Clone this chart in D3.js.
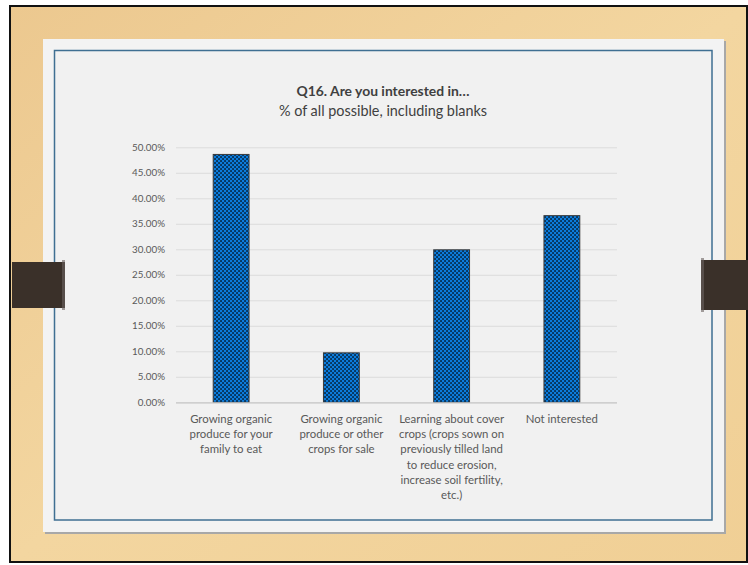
<!DOCTYPE html>
<html>
<head>
<meta charset="utf-8">
<script src="https://cdn.jsdelivr.net/npm/d3@7"></script>
<style>
  html, body { margin: 0; padding: 0; background: #ffffff; }
  svg { display: block; }
</style>
</head>
<body>
<svg id="chart" width="748" height="565"></svg>
<script>
const categories = [
  ["Growing organic", "produce for your", "family to eat"],
  ["Growing organic", "produce or other", "crops for sale"],
  ["Learning about cover", "crops (crops sown on", "previously tilled land", "to reduce erosion,", "increase soil fertility,", "etc.)"],
  ["Not interested"]
];
const values = [0.486, 0.097, 0.299, 0.366];
const yTicks = [0, 0.05, 0.10, 0.15, 0.20, 0.25, 0.30, 0.35, 0.40, 0.45, 0.50];
const titleText = "Q16. Are you interested in\u2026";
const subtitleText = "% of all possible, including blanks";

const svg = d3.select("#chart");
const FONT = "Lato, 'Open Sans', 'DejaVu Sans', sans-serif";

const defs = svg.append("defs");
const pat = defs.append("pattern")
  .attr("id", "checker").attr("patternUnits", "userSpaceOnUse")
  .attr("width", 4).attr("height", 4);
pat.append("rect").attr("width", 4).attr("height", 4).attr("fill", "#0c7cdc");
pat.append("rect").attr("x", 0.3).attr("y", 0.3).attr("width", 1.45).attr("height", 1.45).attr("fill", "#000");
pat.append("rect").attr("x", 2.3).attr("y", 2.3).attr("width", 1.45).attr("height", 1.45).attr("fill", "#000");

const wood = defs.append("linearGradient").attr("id", "wood").attr("x1", 0).attr("y1", 0).attr("x2", 1).attr("y2", 1);
wood.append("stop").attr("offset", "0%").attr("stop-color", "#ecc88f");
wood.append("stop").attr("offset", "50%").attr("stop-color", "#f3d6a0");
wood.append("stop").attr("offset", "100%").attr("stop-color", "#f0cf95");

// frame
svg.append("rect").attr("x", 10).attr("y", 6).attr("width", 737).attr("height", 556)
  .attr("fill", "url(#wood)").attr("stroke", "#111").attr("stroke-width", 2);

// panel shadow + panel
svg.append("rect").attr("x", 45).attr("y", 41).attr("width", 681).attr("height", 493).attr("fill", "#a8a8a8");
svg.append("rect").attr("x", 43).attr("y", 39).attr("width", 681).attr("height", 493).attr("fill", "#f3f3f3");

// blue inner border
svg.append("rect").attr("x", 54.5).attr("y", 50.5).attr("width", 657.5).attr("height", 469.5)
  .attr("fill", "#f1f1f1").attr("stroke", "#3f6f92").attr("stroke-width", 1.5);

// dark side bands
svg.append("rect").attr("x", 12).attr("y", 262).attr("width", 53).attr("height", 46).attr("fill", "#3a3029");
svg.append("rect").attr("x", 62).attr("y", 260).attr("width", 3).attr("height", 50).attr("fill", "#6b6360").attr("opacity", 0.6);
svg.append("rect").attr("x", 701).attr("y", 260).attr("width", 47).attr("height", 50).attr("fill", "#3a3029");
svg.append("rect").attr("x", 701).attr("y", 258).attr("width", 3).attr("height", 54).attr("fill", "#6b6360").attr("opacity", 0.6);

// titles
svg.append("text").attr("x", 383).attr("y", 96).attr("text-anchor", "middle")
  .attr("font-family", FONT).attr("font-size", 13.9).attr("font-weight", "bold").attr("fill", "#404040")
  .text(titleText);
svg.append("text").attr("x", 383).attr("y", 115.5).attr("text-anchor", "middle")
  .attr("font-family", FONT).attr("font-size", 14.4).attr("fill", "#404040")
  .text(subtitleText);

// scales
const plotLeft = 176, plotRight = 617, plotTop = 147.3, plotBottom = 402.3;
const x = d3.scaleBand().domain(d3.range(categories.length))
  .range([plotLeft, plotRight]).paddingInner(0.675).paddingOuter(0.3375);
const y = d3.scaleLinear().domain([0, 0.5]).range([plotBottom, plotTop]);

// gridlines
const yAxis = d3.axisLeft(y).tickValues(yTicks).tickFormat(d3.format(".2%"))
  .tickSize(-(plotRight - plotLeft)).tickPadding(11);
const ga = svg.append("g").attr("transform", `translate(${plotLeft},0)`).call(yAxis);
ga.select(".domain").remove();
ga.selectAll(".tick line").attr("stroke", "#dcdcdc").attr("stroke-width", 1);
ga.selectAll(".tick text").attr("font-family", FONT).attr("font-size", 9.8).attr("fill", "#595959");

// bars
svg.append("g").selectAll("rect").data(values).join("rect")
  .attr("x", (d, i) => x(i)).attr("width", x.bandwidth())
  .attr("y", d => y(d)).attr("height", d => y(0) - y(d))
  .attr("fill", "url(#checker)").attr("stroke", "#3a3a3a").attr("stroke-width", 1);

// x axis line
svg.append("line").attr("x1", plotLeft).attr("x2", plotRight)
  .attr("y1", y(0) + 0.5).attr("y2", y(0) + 0.5).attr("stroke", "#c8c8c8").attr("stroke-width", 1.2);

// category labels
const lab = svg.append("g");
categories.forEach((lines, i) => {
  const t = lab.append("text").attr("text-anchor", "middle")
    .attr("font-family", FONT).attr("font-size", 11.4).attr("fill", "#595959");
  lines.forEach((ln, j) => {
    t.append("tspan").attr("x", x(i) + x.bandwidth() / 2).attr("y", 423 + j * 15.2).text(ln);
  });
});
</script>
</body>
</html>
